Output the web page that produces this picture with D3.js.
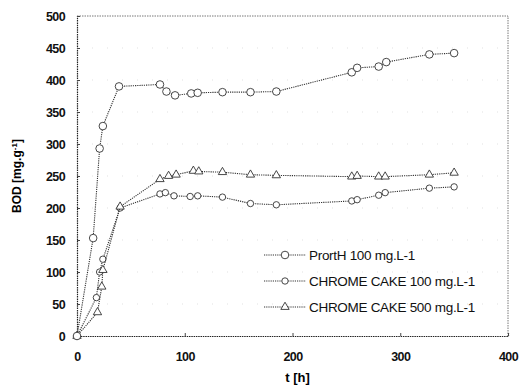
<!DOCTYPE html>
<meta charset="utf-8">
<style>
body { margin: 0; background: #fff; }
svg { display: block; }
.tick text { font: bold 12.5px "Liberation Sans", Arial, sans-serif; fill: #111; letter-spacing: -0.6px; }
.legend text { font: 13.5px "Liberation Sans", Arial, sans-serif; fill: #111; letter-spacing: -0.3px; }
</style>
<html>
  <head>
    <script src="https://cdn.jsdelivr.net/npm/d3@7"></script>
  </head>
  <body>
    <script>
var width = 522, height = 387
  , margin = {top: 16, right: 14, bottom: 51, left: 77}

// t [h] and BOD [mg.g-1]
var prorH = [[0,0],[15,153],[21,293],[24,328],[39,390],[77,393],[83,382],[91,376],[106,379],[112,380],
  [135,381],[161,381],[185,382],[255,412],[260,419],[280,421],[287,428],[327,440],[350,442]];
var chrome100 = [[0,0],[18,60],[21,100],[24,120],[40,200],[77,222],[82,224],[90,219],[105,218],[112,219],
  [135,217],[161,207],[185,205],[255,211],[260,213],[280,220],[286,224],[327,231],[350,233]];
var chrome500 = [[0,0],[19,37],[23,77],[24,103],[40,202],[77,245],[85,250],[92,252],[108,258],[113,257],
  [135,256],[161,252],[185,251],[255,249],[260,250],[280,249],[286,249],[327,252],[350,255]];

var seriesNames = ["PrortH 100 mg.L-1", "CHROME CAKE 100 mg.L-1", "CHROME CAKE 500 mg.L-1"];
var xTicks = [0, 100, 200, 300, 400];
var yTicks = [0, 50, 100, 150, 200, 250, 300, 350, 400, 450, 500];

var svg = d3.select("body").append("svg")
    .attr("width", width).attr("height", height);

var x = d3.scaleLinear().domain([0, 400]).range([margin.left, width - margin.right]);
var y = d3.scaleLinear().domain([0, 500]).range([height - margin.bottom, margin.top]);

// faint grid remnants
svg.append("g").selectAll("line").data(yTicks.slice(1, -1)).enter().append("line")
    .attr("x1", x(0)).attr("x2", x(400)).attr("y1", y).attr("y2", y)
    .attr("stroke", "#ccc").attr("stroke-width", 0.6).attr("stroke-dasharray", "1,14");

// frame top/right
svg.append("path")
    .attr("d", "M" + x(0) + "," + y(500) + "H" + x(400) + "V" + y(0))
    .attr("fill", "none").attr("stroke", "#555").attr("stroke-width", 0.8).attr("stroke-dasharray", "1.5,1");

var xAxis = svg.append("g").attr("transform", "translate(0," + y(0) + ")")
    .call(d3.axisBottom(x).tickValues(xTicks).tickSize(-3).tickPadding(16));
var yAxis = svg.append("g").attr("transform", "translate(" + x(0) + ",0)")
    .call(d3.axisLeft(y).tickValues(yTicks).tickSize(-3).tickPadding(12));
[xAxis, yAxis].forEach(function(a) {
  a.select(".domain").attr("stroke", "#222").attr("stroke-width", 1.2).attr("stroke-dasharray", "1.5,0.8");
  a.selectAll(".tick line").attr("stroke", "#444");
});

svg.append("text").attr("x", (x(0) + x(400)) / 2 + 5).attr("y", 382)
    .attr("text-anchor", "middle").style("font", "bold 13px 'Liberation Sans', Arial, sans-serif")
    .text("t [h]");
svg.append("text").attr("transform", "translate(21," + ((y(0) + y(500)) / 2) + ") rotate(-90)")
    .attr("text-anchor", "middle").style("font", "bold 12px 'Liberation Sans', Arial, sans-serif")
    .text("BOD [mg.g").append("tspan").attr("dy", -4).style("font-size", "8px").text("-1")
    .select(function() { return this.parentNode; }).append("tspan").attr("dy", 4).text("]");

var line = d3.line().x(function(d) { return x(d[0]); }).y(function(d) { return y(d[1]); });
var tri = d3.symbol().type(d3.symbolTriangle).size(30);

function drawMarker(g, kind, r) {
  if (kind === "tri") {
    g.append("path").attr("d", tri).attr("fill", "#fff").attr("stroke", "#333").attr("stroke-width", 0.9);
  } else {
    g.append("circle").attr("r", r).attr("fill", "#fff").attr("stroke", "#333").attr("stroke-width", 0.9);
  }
}

var series = [
  {data: chrome100, kind: "circle", r: 3.2, name: seriesNames[1]},
  {data: chrome500, kind: "tri", r: 3.5, name: seriesNames[2]},
  {data: prorH, kind: "circle", r: 3.8, name: seriesNames[0]}
];

series.forEach(function(s) {
  svg.append("path").datum(s.data).attr("d", line)
      .attr("fill", "none").attr("stroke", "#333").attr("stroke-width", 1.1).attr("stroke-dasharray", "1.2,1");
  svg.append("g").selectAll("g").data(s.data).enter().append("g")
      .attr("transform", function(d) { return "translate(" + x(d[0]) + "," + y(d[1]) + ")"; })
      .each(function() { drawMarker(d3.select(this), s.kind, s.r); });
});

// legend
var legendOrder = [series[2], series[0], series[1]];
var legend = svg.append("g").attr("class", "legend");
legendOrder.forEach(function(s, i) {
  var ly = 255 + i * 26;
  legend.append("line").attr("x1", 264).attr("x2", 306).attr("y1", ly).attr("y2", ly)
      .attr("stroke", "#333").attr("stroke-width", 1.1).attr("stroke-dasharray", "1.2,1");
  drawMarker(legend.append("g").attr("transform", "translate(285," + ly + ")"), s.kind, s.r);
  legend.append("text").attr("x", 309).attr("y", ly + 5).text(s.name);
});
    </script>
  </body>
</html>
